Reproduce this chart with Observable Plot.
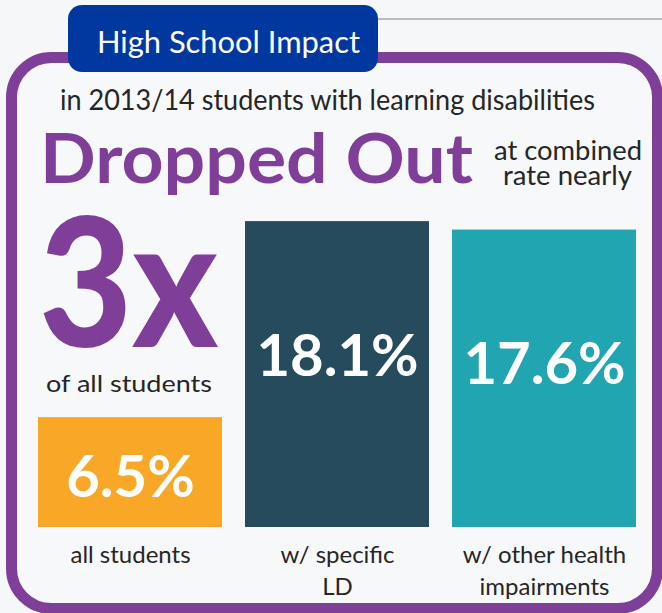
<!DOCTYPE html>
<html>
<head>
<meta charset="utf-8">
<script src="https://cdn.jsdelivr.net/npm/d3@7"></script>
<script src="https://cdn.jsdelivr.net/npm/@observablehq/plot@0.6"></script>
<style>
  html, body { margin: 0; padding: 0; background: #f6f7f9; }
  #chart svg { display: block; }
</style>
</head>
<body>
<div id="chart"></div>
<script>
// ---- data ----
const categories = ["all students", "w/ specific LD", "w/ other health impairments"];
const categoryLabels = ["all students", "w/ specific\nLD", "w/ other health\nimpairments"];
const values = [6.5, 18.1, 17.6];
const barColors = ["#f9a727", "#254b5c", "#21a5b1"];
const tabTitle = "High School Impact";
const introText = "in 2013/14 students with learning disabilities";
const headline = "Dropped Out";
const headlineNote = ["at combined", "rate nearly"];
const multiple = "3x";
const multipleNote = "of all students";

const data = categories.map((c, i) => ({
  category: c, label: categoryLabels[i], value: values[i], color: barColors[i]
}));
const fmt = d => d3.format(".1f")(d.value) + "%";

const purple = "#7f3f98";
const ink = "#262626";

const chart = Plot.plot({
  width: 662,
  height: 613,
  marginLeft: 37,
  marginRight: 25,
  marginTop: 189,
  marginBottom: 86,
  style: { background: "transparent", fontFamily: "Lato, sans-serif", color: ink },
  x: { domain: categories, paddingInner: 0.11, paddingOuter: 0, axis: null },
  y: { domain: [0, 20], axis: null },
  color: { type: "identity" },
  marks: [
    Plot.barY(data, { x: "category", y: "value", fill: "color" }),
    Plot.text(data.filter(d => d.value > 10), {
      x: "category", y: "value", text: fmt, fill: "white",
      fontSize: 58, fontWeight: "bold", lineAnchor: "top", dy: 113
    }),
    Plot.text(data.filter(d => d.value <= 10), {
      x: "category", y: "value", text: fmt, fill: "white",
      fontSize: 58, fontWeight: "bold", lineAnchor: "top", dy: 38
    }),
    Plot.text(data, {
      x: "category", text: "label", frameAnchor: "bottom", lineAnchor: "top",
      dy: 13, fontSize: 24, lineHeight: 1.33, fill: ink
    })
  ]
});

document.getElementById("chart").appendChild(chart);

// ---- decorations (frame, tab, headline texts) ----
const svg = d3.select(chart);
const deco = svg.insert("g", ":first-child");
deco.append("rect").attr("x", 0).attr("y", 0).attr("width", 662).attr("height", 613).attr("fill", "#f6f7f9");
deco.append("line").attr("x1", 370).attr("x2", 662).attr("y1", 19).attr("y2", 19)
  .attr("stroke", "#a9a9a9").attr("stroke-width", 1.5);
deco.append("rect").attr("x", 11.5).attr("y", 57.5).attr("width", 646).attr("height", 551)
  .attr("rx", 40).attr("fill", "#f7f8fa").attr("stroke", purple).attr("stroke-width", 11);
deco.append("rect").attr("x", 68).attr("y", 5).attr("width", 310).attr("height", 67)
  .attr("rx", 14).attr("fill", "#0038a0");

function addText(g, str, opts) {
  const t = g.append("text").text(str)
    .attr("x", opts.x).attr("y", opts.y)
    .attr("font-family", "Lato, sans-serif")
    .attr("font-size", opts.size)
    .attr("font-weight", opts.weight || "normal")
    .attr("fill", opts.fill || ink)
    .attr("text-anchor", opts.anchor || "start");
  if (opts.len) t.attr("textLength", opts.len).attr("lengthAdjust", "spacingAndGlyphs");
  return t;
}
addText(deco, tabTitle, { x: 97, y: 53, size: 31, fill: "white", len: 263 });
addText(deco, introText, { x: 60, y: 110, size: 28, len: 535 });
addText(deco, headline, { x: 40, y: 183, size: 69, weight: "bold", fill: purple, len: 433 });
addText(deco, headlineNote[0], { x: 494, y: 160, size: 26, len: 148 });
addText(deco, headlineNote[1], { x: 503, y: 185, size: 26, len: 129 });
addText(deco, multiple, { x: 39, y: 347, size: 179, weight: 900, fill: purple, len: 179 });
addText(deco, multipleNote, { x: 46, y: 392, size: 24, len: 166 });
</script>
</body>
</html>
